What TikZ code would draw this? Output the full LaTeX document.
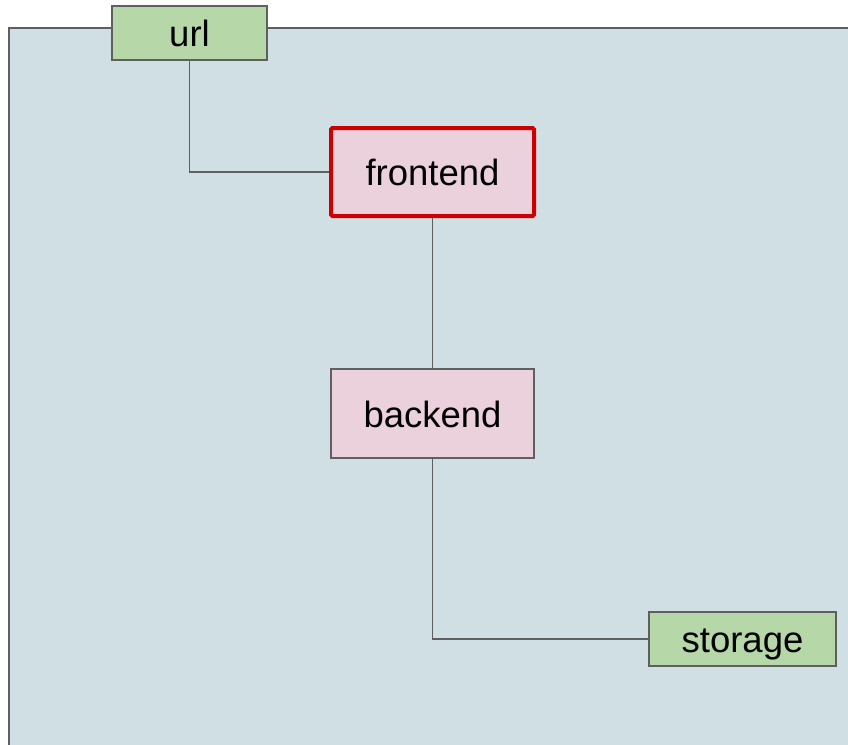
\documentclass[tikz,border=0pt]{standalone}
\usepackage{fontspec}
\setmainfont{Liberation Sans}

\definecolor{panel}{HTML}{D0DFE3}
\definecolor{leaf}{HTML}{B6D7A8}
\definecolor{svc}{HTML}{EAD1DC}
\definecolor{hot}{HTML}{CC0000}
\definecolor{wire}{HTML}{5F5F5F}

\tikzset{
  box/.style={draw=wire, line width=1.6pt, inner sep=0pt,
    text height=33pt, text depth=6pt,
    font=\fontsize{36.5}{40}\selectfont},
  leafbox/.style={box, fill=leaf, minimum height=54.5pt},
  svcbox/.style={box, fill=svc, minimum width=203pt},
  hotbox/.style={svcbox, draw=hot, line width=4pt, rounded corners=1.5pt},
  link/.style={draw=wire, line width=1.6pt}
}

\begin{document}
\begin{tikzpicture}[x=1pt,y=-1pt]
\useasboundingbox (0,0) rectangle (848,744);
\clip (0,0) rectangle (848,744);
\draw[draw=wire, line width=1.6pt, fill=panel] (8.75,27.75) rectangle (870,770);
% services
\node[hotbox, minimum height=88pt] (frontend) at (432.5,172) {frontend};
\node[svcbox, minimum height=89pt] (backend) at (432.5,413.5) {backend};
% endpoints
\node[leafbox, minimum width=155.5pt] (url) at (189.5,33) {url};
\node[leafbox, minimum width=187.5pt] (storage) at (742.5,639) {storage};
\draw[link] (url.south) |- (frontend.west);
\draw[link] (frontend.south) -- (backend.north);
\draw[link] (backend.south) |- (storage.west);
\end{tikzpicture}
\end{document}
